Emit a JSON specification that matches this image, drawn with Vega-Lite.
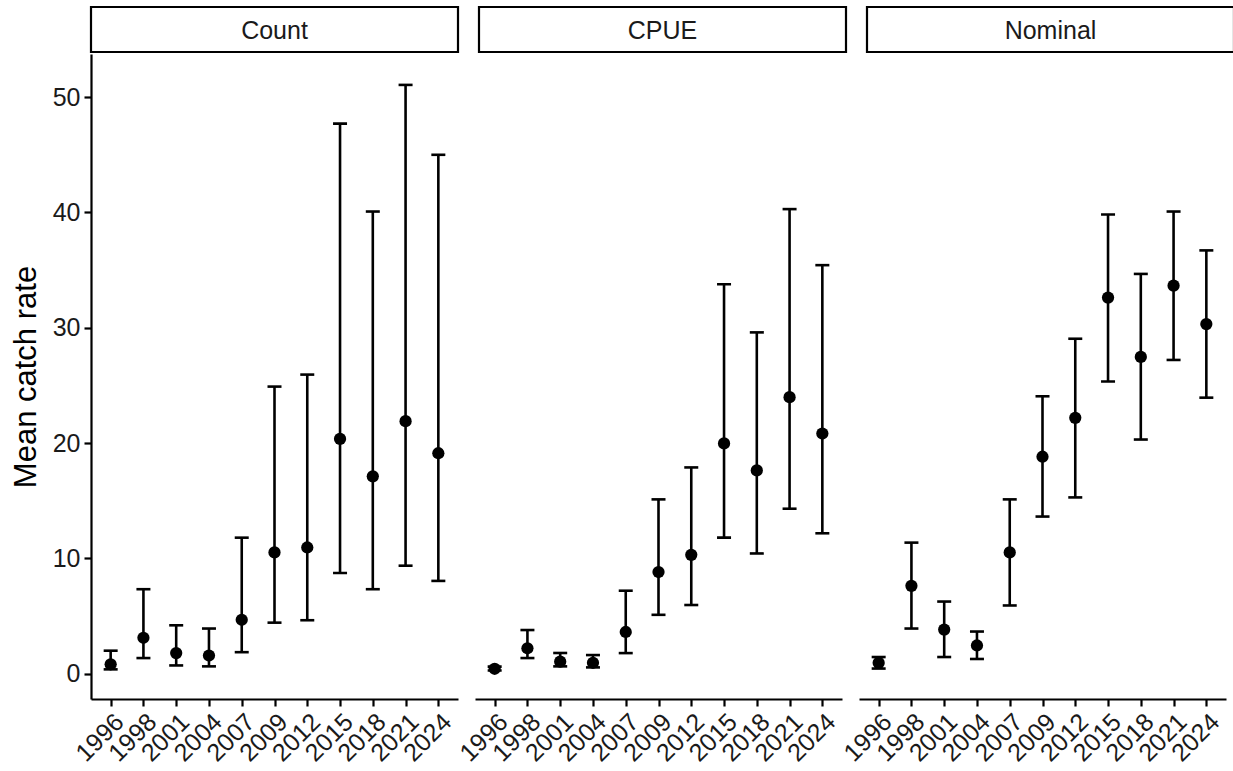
{
  "$schema": "https://vega.github.io/schema/vega-lite/v6.json",
  "padding": {"left": 10, "top": 5, "right": 0, "bottom": 0},
  "background": "white",
  "datasets": {
    "strips": [
      {"panel": "Count"}, {"panel": "CPUE"}, {"panel": "Nominal"}
    ],
    "est": [
      {"panel": "Count", "year": "1996", "est": 0.82, "lower": 0.38, "upper": 2.0},
      {"panel": "Count", "year": "1998", "est": 3.12, "lower": 1.36, "upper": 7.33},
      {"panel": "Count", "year": "2001", "est": 1.79, "lower": 0.72, "upper": 4.2},
      {"panel": "Count", "year": "2004", "est": 1.58, "lower": 0.64, "upper": 3.92},
      {"panel": "Count", "year": "2007", "est": 4.68, "lower": 1.87, "upper": 11.8},
      {"panel": "Count", "year": "2009", "est": 10.52, "lower": 4.43, "upper": 24.9},
      {"panel": "Count", "year": "2012", "est": 10.95, "lower": 4.64, "upper": 25.94},
      {"panel": "Count", "year": "2015", "est": 20.36, "lower": 8.73, "upper": 47.7},
      {"panel": "Count", "year": "2018", "est": 17.12, "lower": 7.33, "upper": 40.08},
      {"panel": "Count", "year": "2021", "est": 21.9, "lower": 9.37, "upper": 51.06},
      {"panel": "Count", "year": "2024", "est": 19.12, "lower": 8.05, "upper": 45.0},
      {"panel": "CPUE", "year": "1996", "est": 0.43, "lower": 0.28, "upper": 0.62},
      {"panel": "CPUE", "year": "1998", "est": 2.21, "lower": 1.36, "upper": 3.79},
      {"panel": "CPUE", "year": "2001", "est": 1.05, "lower": 0.64, "upper": 1.8},
      {"panel": "CPUE", "year": "2004", "est": 0.95, "lower": 0.55, "upper": 1.62},
      {"panel": "CPUE", "year": "2007", "est": 3.62, "lower": 1.79, "upper": 7.2},
      {"panel": "CPUE", "year": "2009", "est": 8.82, "lower": 5.11, "upper": 15.12},
      {"panel": "CPUE", "year": "2012", "est": 10.31, "lower": 5.96, "upper": 17.89},
      {"panel": "CPUE", "year": "2015", "est": 19.97, "lower": 11.8, "upper": 33.77},
      {"panel": "CPUE", "year": "2018", "est": 17.63, "lower": 10.43, "upper": 29.6},
      {"panel": "CPUE", "year": "2021", "est": 23.98, "lower": 14.31, "upper": 40.29},
      {"panel": "CPUE", "year": "2024", "est": 20.83, "lower": 12.18, "upper": 35.43},
      {"panel": "Nominal", "year": "1996", "est": 0.94, "lower": 0.45, "upper": 1.45},
      {"panel": "Nominal", "year": "1998", "est": 7.62, "lower": 3.92, "upper": 11.37},
      {"panel": "Nominal", "year": "2001", "est": 3.83, "lower": 1.45, "upper": 6.26},
      {"panel": "Nominal", "year": "2004", "est": 2.45, "lower": 1.28, "upper": 3.66},
      {"panel": "Nominal", "year": "2007", "est": 10.52, "lower": 5.92, "upper": 15.12},
      {"panel": "Nominal", "year": "2009", "est": 18.82, "lower": 13.63, "upper": 24.06},
      {"panel": "Nominal", "year": "2012", "est": 22.19, "lower": 15.29, "upper": 29.05},
      {"panel": "Nominal", "year": "2015", "est": 32.62, "lower": 25.34, "upper": 39.82},
      {"panel": "Nominal", "year": "2018", "est": 27.47, "lower": 20.31, "upper": 34.67},
      {"panel": "Nominal", "year": "2021", "est": 33.65, "lower": 27.21, "upper": 40.08},
      {"panel": "Nominal", "year": "2024", "est": 30.32, "lower": 23.94, "upper": 36.71}
    ]
  },
  "config": {
    "font": "Liberation Sans",
    "view": {"stroke": null},
    "axis": {
      "grid": false,
      "domainColor": "black",
      "domainWidth": 2.2,
      "tickColor": "black",
      "tickWidth": 2.2,
      "tickSize": 7,
      "labelColor": "#1a1a1a",
      "labelFontSize": 25,
      "labelFont": "Liberation Sans",
      "titleFont": "Liberation Sans",
      "titleFontWeight": "normal",
      "titleColor": "black"
    }
  },
  "spacing": 0,
  "vconcat": [
    {
      "data": {"name": "strips"},
      "facet": {
        "column": {
          "field": "panel",
          "type": "nominal",
          "sort": ["Count", "CPUE", "Nominal"],
          "header": {"title": null, "labels": false, "labelPadding": 0, "titlePadding": 0}
        }
      },
      "spacing": {"column": 17},
      "spec": {
        "width": 367,
        "height": 45,
        "layer": [
          {
            "mark": {"type": "rect", "fill": "white", "stroke": "black", "strokeWidth": 2.2},
            "encoding": {}
          },
          {
            "mark": {"type": "text", "fontSize": 25, "color": "#1a1a1a", "font": "Liberation Sans", "dy": 1},
            "encoding": {"text": {"field": "panel", "type": "nominal"}}
          }
        ]
      }
    },
    {
      "data": {"name": "est"},
      "facet": {
        "column": {
          "field": "panel",
          "type": "nominal",
          "sort": ["Count", "CPUE", "Nominal"],
          "header": {"title": null, "labels": false, "labelPadding": 0, "titlePadding": 0}
        }
      },
      "spacing": {"column": 17},
      "spec": {
        "width": 367,
        "height": 645,
        "encoding": {
          "x": {
            "field": "year",
            "type": "ordinal",
            "scale": {"type": "point", "padding": 0.6},
            "axis": {
              "title": null,
              "labelAngle": -45,
              "labelAlign": "right",
              "labelBaseline": "top",
              "labelPadding": 3,
              "labelOverlap": false
            }
          }
        },
        "layer": [
          {
            "mark": {"type": "rule", "color": "black", "strokeWidth": 2.6},
            "encoding": {
              "y": {
                "field": "lower",
                "type": "quantitative",
                "scale": {"domain": [-2.19, 53.74], "nice": false, "zero": false},
                "axis": {
                  "title": "Mean catch rate",
                  "titleFontSize": 31,
                  "titlePadding": 10,
                  "values": [0, 10, 20, 30, 40, 50],
                  "labelPadding": 4
                }
              },
              "y2": {"field": "upper"}
            }
          },
          {
            "mark": {"type": "tick", "color": "black", "thickness": 2.6, "size": 14, "opacity": 1},
            "encoding": {"y": {"field": "upper", "type": "quantitative"}}
          },
          {
            "mark": {"type": "tick", "color": "black", "thickness": 2.6, "size": 14, "opacity": 1},
            "encoding": {"y": {"field": "lower", "type": "quantitative"}}
          },
          {
            "mark": {"type": "point", "filled": true, "color": "black", "opacity": 1, "size": 150},
            "encoding": {"y": {"field": "est", "type": "quantitative"}}
          }
        ]
      }
    }
  ]
}
